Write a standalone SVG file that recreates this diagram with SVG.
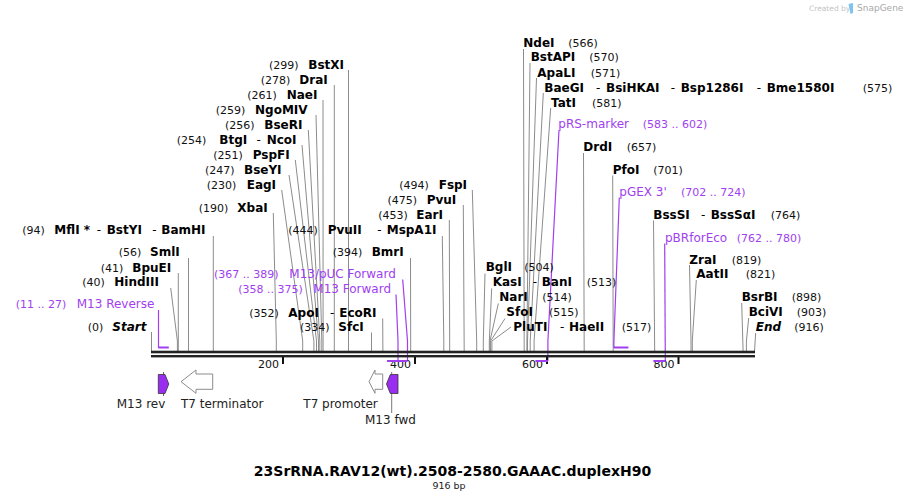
<svg xmlns="http://www.w3.org/2000/svg" width="906" height="501" viewBox="0 0 906 501">
<style>
text{font-family:"DejaVu Sans",Verdana,sans-serif}
.n{font-size:11px;fill:#111}
.e{font-size:12px;font-weight:bold;fill:#000}
.d{font-size:12px;fill:#000}
.ei{font-size:12px;font-weight:bold;font-style:italic;fill:#000}
.p{font-size:12px;fill:#a03ef0}
.pn{font-size:11px;fill:#a03ef0}
.f{font-size:12px;fill:#222}
.l{stroke:#8c8c8c;stroke-width:1;fill:none}
.pl{stroke:#a03ef0;stroke-width:1.2;fill:none}
.pb{fill:#a03ef0}
.seq{fill:#222}
.tk{fill:#111}
.fo{fill:#fff;stroke:#8c8c8c;stroke-width:1}
.fp{fill:#9a2ef0;stroke:#333;stroke-width:0.8}
</style>

<g id="connectors">
<polyline class="l" points="151.5,332 151.5,351"/>
<polyline class="l" points="170.7,288 177.4,341 177.4,351"/>
<polyline class="l" points="178.3,273 178.3,351"/>
<polyline class="l" points="188.5,258 188.5,351"/>
<polyline class="l" points="213.3,236 213.3,351"/>
<polyline class="l" points="273.3,213 276.3,341 276.3,351"/>
<polyline class="l" points="281.7,190 302.7,341 302.7,351"/>
<polyline class="l" points="289,175 313.9,341 313.9,351"/>
<polyline class="l" points="295.3,160 316.5,341 316.5,351"/>
<polyline class="l" points="302,145 318.5,341 318.5,351"/>
<polyline class="l" points="308.3,130 319.8,341 319.8,351"/>
<polyline class="l" points="316,115 321.8,341 321.8,351"/>
<polyline class="l" points="323,100 323.1,351"/>
<polyline class="l" points="334.3,85 334.3,351"/>
<polyline class="l" points="348.5,70 348.5,351"/>
<polyline class="l" points="382.7,318.5 382.9,351"/>
<polyline class="l" points="371.5,332.5 371.5,351"/>
<polyline class="l" points="410.5,258 410.7,351"/>
<polyline class="l" points="442.3,236 443.8,341 443.8,351"/>
<polyline class="l" points="449.3,220 449.7,351"/>
<polyline class="l" points="463.3,205 464.2,351"/>
<polyline class="l" points="472.3,190 476.7,341 476.7,351"/>
<polyline class="l" points="485,273.5 483.3,341 483.3,351"/>
<polyline class="l" points="491.7,288.5 489.3,341 489.3,351"/>
<polyline class="l" points="498.3,303.5 490,341 490,351"/>
<polyline class="l" points="505,318.5 490.6,341 490.6,351"/>
<polyline class="l" points="511,327 491.9,341 491.9,351"/>
<polyline class="l" points="523.5,49 524.2,351"/>
<polyline class="l" points="530,63 526.9,341 526.9,351"/>
<polyline class="l" points="536.5,78 527.5,341 527.5,351"/>
<polyline class="l" points="543.3,93 530.2,341 530.2,351"/>
<polyline class="l" points="550.7,108 534.1,341 534.1,351"/>
<polyline class="l" points="583.5,153 584.2,351"/>
<polyline class="l" points="612.7,175.5 613.2,351"/>
<polyline class="l" points="653.5,220.5 654.7,351"/>
<polyline class="l" points="689.5,265 691,341 691,351"/>
<polyline class="l" points="696.3,280 692.3,341 692.3,351"/>
<polyline class="l" points="741.7,303 743.1,351"/>
<polyline class="l" points="748.7,318 746.4,341 746.4,351"/>
<polyline class="l" points="755.7,333 754.5,351"/>
<polyline class="pl" points="158.5,310 158.5,348"/>
<polyline class="pl" points="396,294.5 398,341 398,361"/>
<polyline class="pl" points="402.7,279.5 407.5,341 407.5,361"/>
<polyline class="pl" points="559,130 547.9,341 547.9,361"/>
<polyline class="pl" points="619.3,197.5 613.9,341 613.9,348"/>
<polyline class="pl" points="664.7,243.5 665.3,361"/>
<line x1="163.5" y1="372" x2="163.5" y2="396" stroke="#333" stroke-width="0.8"/>
<line x1="391.7" y1="372" x2="391.7" y2="413" stroke="#555" stroke-width="0.8"/>
</g>

<g id="sequence">
<rect class="seq" x="151" y="350.7" width="604" height="2.6"/>
<rect class="seq" x="151" y="355" width="604" height="2.4"/>
<rect class="tk" x="282" y="357" width="2" height="7"/>
<rect class="tk" x="414" y="357" width="2" height="7"/>
<rect class="tk" x="546" y="357" width="2" height="7"/>
<rect class="tk" x="677.5" y="357" width="2" height="7"/>
<text class="n" x="279" y="368" text-anchor="end">200</text>
<text class="n" x="411" y="368" text-anchor="end">400</text>
<text class="n" x="543" y="368" text-anchor="end">600</text>
<text class="n" x="674.5" y="368" text-anchor="end">800</text>
<rect class="pb" x="158.3" y="346.5" width="10.5" height="2"/>
<rect class="pb" x="613.9" y="346.5" width="14.5" height="2"/>
<rect class="pb" x="387" y="360" width="20.5" height="2"/>
<rect class="pb" x="535.4" y="360" width="12.5" height="2"/>
<rect class="pb" x="653.4" y="360" width="11.9" height="2"/>
</g>

<g id="enzyme-labels">
<g id="Start"><text class="n" x="87.7" y="331">(0)</text><text class="ei" x="112.3" y="331">Start</text></g>
<g id="HindIII"><text class="n" x="82.3" y="286">(40)</text><text class="e" x="114.3" y="286">HindIII</text></g>
<g id="BpuEI"><text class="n" x="100.7" y="272">(41)</text><text class="e" x="132.3" y="272">BpuEI</text></g>
<g id="SmlI"><text class="n" x="118.7" y="256">(56)</text><text class="e" x="150" y="256">SmlI</text></g>
<g id="MflI"><text class="n" x="22.3" y="233.5">(94)</text><text class="e" x="54.3" y="233.5">MflI *</text><text class="d" x="96.7" y="233.5">-</text><text class="e" x="106.7" y="233.5">BstYI</text><text class="d" x="152.3" y="233.5">-</text><text class="e" x="161.3" y="233.5">BamHI</text></g>
<g id="XbaI"><text class="n" x="198.7" y="211.5">(190)</text><text class="e" x="237.3" y="211.5">XbaI</text></g>
<g id="EagI"><text class="n" x="206.7" y="188.5">(230)</text><text class="e" x="246.7" y="188.5">EagI</text></g>
<g id="BseYI"><text class="n" x="205" y="173.5">(247)</text><text class="e" x="244" y="173.5">BseYI</text></g>
<g id="PspFI"><text class="n" x="213.3" y="158.5">(251)</text><text class="e" x="252.7" y="158.5">PspFI</text></g>
<g id="BtgI"><text class="n" x="176.7" y="143.5">(254)</text><text class="e" x="219.3" y="143.5">BtgI</text><text class="d" x="256.5" y="143.5">-</text><text class="e" x="266.7" y="143.5">NcoI</text></g>
<g id="BseRI"><text class="n" x="225" y="128.5">(256)</text><text class="e" x="264.3" y="128.5">BseRI</text></g>
<g id="NgoMIV"><text class="n" x="215.7" y="113.5">(259)</text><text class="e" x="255" y="113.5">NgoMIV</text></g>
<g id="NaeI"><text class="n" x="247.3" y="98.5">(261)</text><text class="e" x="286.7" y="98.5">NaeI</text></g>
<g id="DraI"><text class="n" x="260.7" y="83.5">(278)</text><text class="e" x="299.3" y="83.5">DraI</text></g>
<g id="BstXI"><text class="n" x="269" y="68.5">(299)</text><text class="e" x="308.3" y="68.5">BstXI</text></g>
<g id="ApoI"><text class="n" x="249.3" y="316.5">(352)</text><text class="e" x="288.3" y="316.5">ApoI</text><text class="d" x="330" y="316.5">-</text><text class="e" x="339.3" y="316.5">EcoRI</text></g>
<g id="SfcI"><text class="n" x="300" y="331">(334)</text><text class="e" x="338.3" y="331">SfcI</text></g>
<g id="BmrI"><text class="n" x="332.7" y="256">(394)</text><text class="e" x="371.7" y="256">BmrI</text></g>
<g id="PvuII"><text class="n" x="288.3" y="233.5">(444)</text><text class="e" x="327.7" y="233.5">PvuII</text><text class="d" x="377.3" y="233.5">-</text><text class="e" x="386.7" y="233.5">MspA1I</text></g>
<g id="EarI"><text class="n" x="378.3" y="218.5">(453)</text><text class="e" x="416.3" y="218.5">EarI</text></g>
<g id="PvuI"><text class="n" x="387.5" y="203.5">(475)</text><text class="e" x="426.7" y="203.5">PvuI</text></g>
<g id="FspI"><text class="n" x="399.3" y="188.5">(494)</text><text class="e" x="438.7" y="188.5">FspI</text></g>
<g id="BglI"><text class="e" x="485.7" y="271">BglI</text><text class="n" x="524.3" y="271">(504)</text></g>
<g id="KasI"><text class="e" x="492.7" y="286">KasI</text><text class="d" x="532.7" y="286">-</text><text class="e" x="541.7" y="286">BanI</text><text class="n" x="586.7" y="286">(513)</text></g>
<g id="NarI"><text class="e" x="499.3" y="301">NarI</text><text class="n" x="542.3" y="301">(514)</text></g>
<g id="SfoI"><text class="e" x="506.3" y="316">SfoI</text><text class="n" x="549" y="316">(515)</text></g>
<g id="PluTI"><text class="e" x="513.3" y="331">PluTI</text><text class="d" x="560" y="331">-</text><text class="e" x="569" y="331">HaeII</text><text class="n" x="621.7" y="331">(517)</text></g>
<g id="NdeI"><text class="e" x="523.3" y="47">NdeI</text><text class="n" x="568.3" y="47">(566)</text></g>
<g id="BstAPI"><text class="e" x="530.7" y="61">BstAPI</text><text class="n" x="589.3" y="61">(570)</text></g>
<g id="ApaLI"><text class="e" x="537.3" y="76.5">ApaLI</text><text class="n" x="590.7" y="76.5">(571)</text></g>
<g id="BaeGI"><text class="e" x="544.3" y="91.5">BaeGI</text><text class="d" x="596" y="91.5">-</text><text class="e" x="606" y="91.5">BsiHKAI</text><text class="d" x="670.7" y="91.5">-</text><text class="e" x="680.7" y="91.5">Bsp1286I</text><text class="d" x="756.7" y="91.5">-</text><text class="e" x="766.7" y="91.5">Bme1580I</text><text class="n" x="862.7" y="91.5">(575)</text></g>
<g id="TatI"><text class="e" x="551" y="106.5">TatI</text><text class="n" x="592" y="106.5">(581)</text></g>
<g id="DrdI"><text class="e" x="583.3" y="151">DrdI</text><text class="n" x="626.7" y="151">(657)</text></g>
<g id="PfoI"><text class="e" x="612.7" y="173.5">PfoI</text><text class="n" x="653.3" y="173.5">(701)</text></g>
<g id="BssSI"><text class="e" x="653.3" y="218.5">BssSI</text><text class="d" x="701" y="218.5">-</text><text class="e" x="710.7" y="218.5">BssSαI</text><text class="n" x="770.7" y="218.5">(764)</text></g>
<g id="ZraI"><text class="e" x="689.3" y="263.5">ZraI</text><text class="n" x="731.7" y="263.5">(819)</text></g>
<g id="AatII"><text class="e" x="696.3" y="278">AatII</text><text class="n" x="745.7" y="278">(821)</text></g>
<g id="BsrBI"><text class="e" x="741.7" y="301">BsrBI</text><text class="n" x="791.7" y="301">(898)</text></g>
<g id="BciVI"><text class="e" x="748.7" y="316">BciVI</text><text class="n" x="796.7" y="316">(903)</text></g>
<g id="End"><text class="ei" x="755.7" y="331">End</text><text class="n" x="794.3" y="331">(916)</text></g>
</g>

<g id="primer-labels">
<g id="M13Reverse"><text class="pn" x="15.7" y="308">(11 .. 27)</text><text class="p" x="76.7" y="308">M13 Reverse</text></g>
<g id="M13pUCForward"><text class="pn" x="214" y="278">(367 .. 389)</text><text class="p" x="289.3" y="278">M13/pUC Forward</text></g>
<g id="M13Forward"><text class="pn" x="238.3" y="293">(358 .. 375)</text><text class="p" x="313.3" y="293">M13 Forward</text></g>
<g id="pRSmarker"><text class="p" x="558.3" y="128">pRS-marker</text><text class="pn" x="642.7" y="128">(583 .. 602)</text></g>
<g id="pGEX3"><text class="p" x="619.3" y="196">pGEX 3'</text><text class="pn" x="681" y="196">(702 .. 724)</text></g>
<g id="pBRforEco"><text class="p" x="665" y="241.5">pBRforEco</text><text class="pn" x="736.7" y="241.5">(762 .. 780)</text></g>
</g>

<g id="features">
<g id="M13rev"><polygon class="fp" points="158.3,374.5 165,374.5 168.8,384 165,393.5 158.3,393.5"/><text class="f" x="116.7" y="407.5">M13 rev</text></g>
<g id="T7terminator"><polygon class="fo" points="181,381.7 196,370 196,374 212.7,374 212.7,389.3 196,389.3 196,393.3"/><text class="f" x="181" y="407.5">T7 terminator</text></g>
<g id="T7promoter"><polygon class="fo" points="369,381.7 375,370 375,374 382.7,374 382.7,389.3 375,389.3 375,393.3"/><text class="f" x="303.3" y="407.5">T7 promoter</text></g>
<g id="M13fwd"><polygon class="fp" points="386.5,384 390.3,374.5 398,374.5 398,393.5 390.3,393.5"/><text class="f" x="365" y="424">M13 fwd</text></g>
</g>

<g id="title">
<text x="452.5" y="476" text-anchor="middle" style="font-size:14px;font-weight:bold;fill:#000">23SrRNA.RAV12(wt).2508-2580.GAAAC.duplexH90</text>
<text x="449" y="488.5" text-anchor="middle" style="font-size:9.5px;fill:#222">916 bp</text>
</g>

<g id="watermark">
<text x="809" y="10.5" style="font-size:7.5px;fill:#c4c4c4">Created by</text>
<path d="M848.5,4 L853,3 L853,13 L850.5,14 Z" fill="#7fc4ee"/>
<text x="857" y="11" style="font-size:9px;fill:#a8a8a8">SnapGene</text>
</g>
</svg>
